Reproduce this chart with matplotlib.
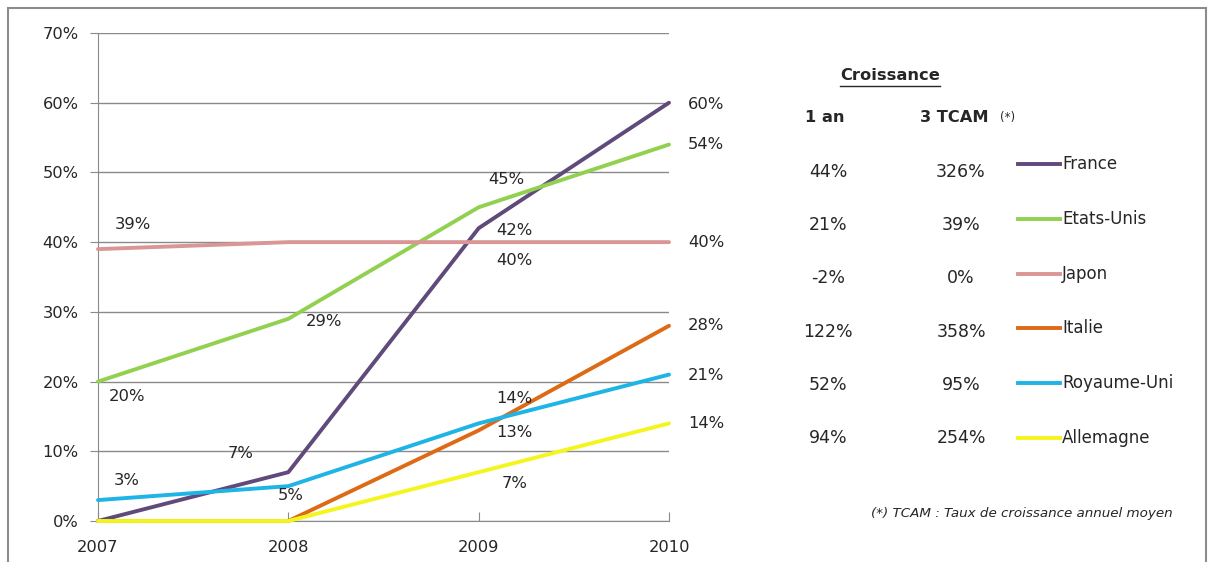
import matplotlib
matplotlib.use("Agg")
import matplotlib.pyplot as plt
from matplotlib.lines import Line2D
from matplotlib.patches import Rectangle
from matplotlib.ticker import FuncFormatter

W, H = 1208, 562

years = ["2007", "2008", "2009", "2010"]
pays = ["France", "Etats-Unis", "Japon", "Italie", "Royaume-Uni", "Allemagne"]
france = [0, 7, 42, 60]
etats_unis = [20, 29, 45, 54]
japon = [39, 40, 40, 40]
italie = [0, 0, 13, 28]
royaume_uni = [3, 5, 14, 21]
allemagne = [0, 0, 7, 14]
croissance_1an = ["44%", "21%", "-2%", "122%", "52%", "94%"]
croissance_tcam = ["326%", "39%", "0%", "358%", "95%", "254%"]

series = [france, etats_unis, japon, italie, royaume_uni, allemagne]
couleurs = ["#604A7B", "#92D050", "#D99694", "#DD6A14", "#1FB4E6", "#F5F51E"]

# décalage des étiquettes (pixels, None = pas d'étiquette)
decalages = [
    [None, (-48, 19), (36, -2), (37, -2)],
    [(29, -15), (36, -3), (28, 28), (37, 0)],
    [(35, 25), None, (36, -18), (37, 0)],
    [None, None, (36, -2), (37, 0)],
    [(29, 20), (2, -9), (36, 25), (37, -1)],
    [None, None, (36, -11), (37, 0)],
]

plt.rcParams["font.family"] = ["DejaVu Sans"]
TXT = "#262626"
GRIS = "#8a8a8a"


def px(x, y):
    return x / W, 1 - y / H


fig = plt.figure(figsize=(W / 100, H / 100), dpi=100)
fig.patches.append(Rectangle(px(8, 570), (1206 - 8) / W, (570 - 8) / H,
                             transform=fig.transFigure, fill=False,
                             edgecolor="#8c8c8c", linewidth=1.5))

ax = fig.add_axes([98 / W, 1 - 521 / H, 571 / W, 488 / H])
x = range(len(years))
for i, (vals, c) in enumerate(zip(series, couleurs)):
    ax.plot(x, vals, color=c, linewidth=2.8, solid_capstyle="round",
            clip_on=False, zorder=3 + i)
    for j, v in enumerate(vals):
        d = decalages[i][j]
        if d is None:
            continue
        ax.annotate(f"{v}%", xy=(j, v), xytext=(d[0] * 0.72, d[1] * 0.72),
                    textcoords="offset points", ha="center", va="center",
                    fontsize=11.8, color=TXT, zorder=20)

ax.set_xlim(0, 3)
ax.set_ylim(0, 70)
ax.set_yticks(range(0, 71, 10))
ax.yaxis.set_major_formatter(FuncFormatter(lambda v, p: f"{v:.0f}%"))
ax.set_xticks(list(x))
ax.set_xticklabels(years)
ax.grid(axis="y", color=GRIS, linewidth=1)
ax.set_axisbelow(True)
for s in ["top", "right"]:
    ax.spines[s].set_visible(False)
for s in ["left", "bottom"]:
    ax.spines[s].set_color(GRIS)
ax.tick_params(axis="y", direction="out", length=6, color=GRIS, pad=8,
               labelsize=11.7, labelcolor=TXT)
ax.tick_params(axis="x", direction="in", length=6.5, color=GRIS, pad=14,
               labelsize=11.7, labelcolor=TXT)

# panneau de croissance
titre = fig.text(*px(890, 76), "Croissance", ha="center", va="center",
                 fontsize=11.7, fontweight="bold", color=TXT)
fig.text(*px(805, 118), "1 an", ha="left", va="center",
         fontsize=11.7, fontweight="bold", color=TXT)
fig.text(*px(920, 118), "3 TCAM", ha="left", va="center",
         fontsize=11.7, fontweight="bold", color=TXT)
fig.text(*px(1000, 117), "(*)", ha="left", va="center", fontsize=8.5, color=TXT)

for i, nom in enumerate(pays):
    yn = 172 + i * 53.2
    yl = 164 + i * 54.8
    fig.text(*px(828, yn), croissance_1an[i], ha="center", va="center",
             fontsize=12.5, color=TXT)
    fig.text(*px(961, yn), croissance_tcam[i], ha="center", va="center",
             fontsize=12.5, color=TXT)
    x0, y0 = px(1018, yl)
    x1, _ = px(1060, yl)
    fig.add_artist(Line2D([x0, x1], [y0, y0], transform=fig.transFigure,
                          color=couleurs[i], linewidth=2.8))
    fig.text(*px(1062, yl), nom, ha="left", va="center", fontsize=12,
             color=TXT)

fig.text(*px(871, 513), "(*) TCAM : Taux de croissance annuel moyen",
         ha="left", va="center", fontsize=9.7, style="italic", color=TXT)

# soulignement du titre
fig.canvas.draw()
bb = titre.get_window_extent().transformed(fig.transFigure.inverted())
fig.add_artist(Line2D([bb.x0, bb.x1], [bb.y0 - 0.004, bb.y0 - 0.004],
                      transform=fig.transFigure, color=TXT, linewidth=1))

fig.savefig("out.png", dpi=100)
